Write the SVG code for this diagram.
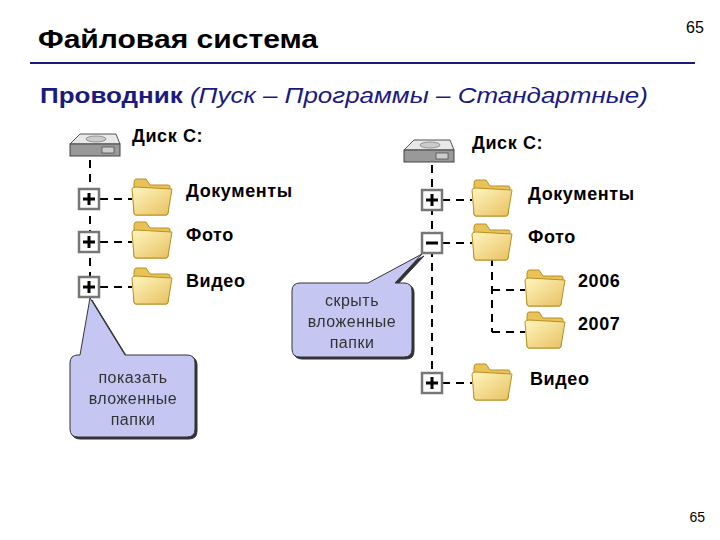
<svg xmlns="http://www.w3.org/2000/svg" width="720" height="540" viewBox="0 0 720 540">
<defs>
<style>
.t{font-family:"Liberation Sans",Arial,sans-serif;fill:#000}
.lb{font-family:"Liberation Sans",Arial,sans-serif;font-weight:bold;font-size:18px;letter-spacing:0.6px}
.cl{font-family:"Liberation Sans",Arial,sans-serif;font-size:16px;fill:#333;text-anchor:middle;letter-spacing:0.5px}
.d{stroke:#000;stroke-width:2;stroke-dasharray:8,6;fill:none}
.bx{fill:#fff;stroke:#777;stroke-width:2.5}
.call{fill:#c6c6f2;stroke:#333;stroke-width:1}
</style>
<linearGradient id="fg" x1="0" y1="0" x2="1" y2="1"><stop offset="0" stop-color="#fff6c0"/><stop offset="1" stop-color="#e8c060"/></linearGradient>
<g id="folder">
<path d="M2,8 L2,38 Q2,40 4,40 L34,40 Q36,40 36,38 L38,12 Q38,10 36,10 L18,10 L14,4 L4,4 Q2,4 2,8Z" fill="#e9c258" stroke="#b89020" stroke-width="1"/>
<path d="M0,14 Q0,12 4,12 L40,14 L36,38 Q36,40 34,40 L4,40 Q2,40 2,38Z" fill="url(#fg)" stroke="#b89020" stroke-width="1"/>
</g>
<g id="disk">
<path d="M2,14 L12,4 L48,4 L52,14 Z" fill="#e8e8e8" stroke="#555"/>
<rect x="2" y="14" width="50" height="12" fill="#999" stroke="#444"/>
<rect x="34" y="17" width="12" height="6" fill="#ccc" stroke="#444" stroke-width="0.7"/>
<ellipse cx="28" cy="9" rx="10" ry="3" fill="#ccc" stroke="#777" stroke-width="0.7"/>
</g>
<g id="plus"><rect class="bx" x="-10" y="-10" width="20" height="20"/><path d="M-6,0 H6 M0,-6 V6" stroke="#000" stroke-width="3"/></g>
<g id="minus"><rect class="bx" x="-10" y="-10" width="20" height="20"/><path d="M-6,0 H6" stroke="#000" stroke-width="3"/></g>
<filter id="sh"><feDropShadow dx="2" dy="2" stdDeviation="0.5" flood-color="#333"/></filter>
</defs>
<rect width="720" height="540" fill="#fff"/>
<text class="t" x="38" y="48" font-size="26" font-weight="bold" textLength="280" lengthAdjust="spacingAndGlyphs">Файловая система</text>
<text class="t" x="686" y="33" font-size="16">65</text>
<line x1="30" y1="63" x2="695" y2="63" stroke="#1a1a7a" stroke-width="2"/>
<text class="t" x="40" y="103" font-size="22" style="fill:#1a1a80" textLength="608" lengthAdjust="spacingAndGlyphs"><tspan font-weight="bold">Проводник</tspan><tspan font-style="italic"> (Пуск – Программы – Стандартные)</tspan></text>

<g id="connectors">
<path class="d" d="M90,160 V300 M100,199 H132 M100,242 H132 M100,287 H132"/>
<path class="d" d="M432,165 V385 M442,200 H472 M442,243 H472 M442,383 H472 M492,258 V332 M492,290 H525 M492,332 H525"/>
</g>

<g id="left-disk"><use href="#disk" x="68" y="130"/><text class="lb" x="132" y="142">Диск С:</text></g>
<g id="left-docs"><use href="#plus" x="89" y="199"/><use href="#folder" x="132" y="175"/><text class="lb" x="186" y="197">Документы</text></g>
<g id="left-photo"><use href="#plus" x="89" y="242"/><use href="#folder" x="132" y="218"/><text class="lb" x="186" y="241">Фото</text></g>
<g id="left-video"><use href="#plus" x="89" y="287"/><use href="#folder" x="132" y="264"/><text class="lb" x="186" y="287">Видео</text></g>

<g id="right-disk"><use href="#disk" x="402" y="136"/><text class="lb" x="472" y="149">Диск С:</text></g>
<g id="right-docs"><use href="#plus" x="432" y="200"/><use href="#folder" x="472" y="176"/><text class="lb" x="528" y="200">Документы</text></g>
<g id="right-photo"><use href="#minus" x="432" y="243"/><use href="#folder" x="472" y="220"/><text class="lb" x="528" y="243">Фото</text></g>
<g id="f2006"><use href="#folder" x="525" y="266"/><text class="lb" x="578" y="287">2006</text></g>
<g id="f2007"><use href="#folder" x="525" y="308"/><text class="lb" x="578" y="330">2007</text></g>
<g id="right-video"><use href="#plus" x="432" y="383"/><use href="#folder" x="472" y="360"/><text class="lb" x="530" y="385">Видео</text></g>

<g id="callout-show" filter="url(#sh)">
<path class="call" d="M80,355 L90,298 L125,355 L187,355 Q195,355 195,363 L195,429 Q195,437 187,437 L78,437 Q70,437 70,429 L70,363 Q70,355 78,355Z"/>
<text class="cl" x="133" y="383">показать</text><text class="cl" x="133" y="404">вложенные</text><text class="cl" x="133" y="425">папки</text>
</g>
<g id="callout-hide" filter="url(#sh)">
<path class="call" d="M300,283 L368,283 L422,254 L395,283 L404,283 Q412,283 412,291 L412,349 Q412,357 404,357 L300,357 Q292,357 292,349 L292,291 Q292,283 300,283Z"/>
<text class="cl" x="352" y="306">скрыть</text><text class="cl" x="352" y="327">вложенные</text><text class="cl" x="352" y="348">папки</text>
</g>
<text class="t" x="705" y="522" font-size="14" text-anchor="end">65</text>
</svg>
